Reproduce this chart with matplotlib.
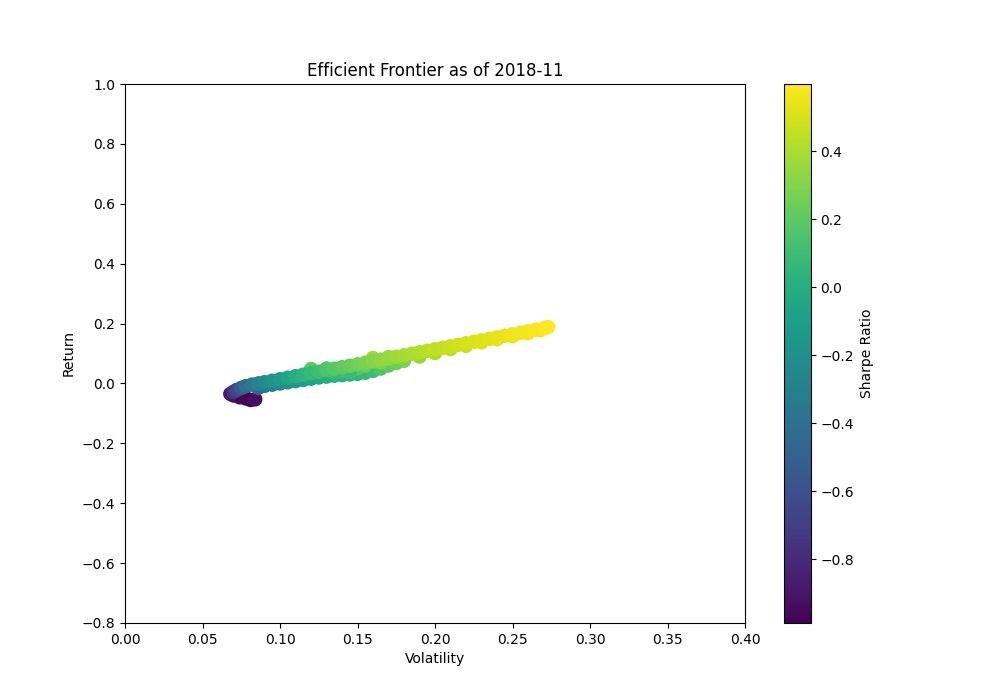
import numpy as np
import matplotlib
matplotlib.use("Agg")
import matplotlib.pyplot as plt

risk_free = 0.025

# portfolios: (volatility, return)
vol_upper = [0.068, 0.070, 0.072, 0.075, 0.078, 0.082, 0.086, 0.090, 0.095, 0.100, 0.105, 0.110,
             0.115, 0.120, 0.125, 0.130, 0.135, 0.140, 0.145, 0.150, 0.155, 0.160, 0.165, 0.170,
             0.175, 0.180, 0.185, 0.190, 0.195, 0.200, 0.205, 0.210, 0.215, 0.220, 0.225, 0.230,
             0.235, 0.240, 0.245, 0.250, 0.255, 0.260, 0.265, 0.270, 0.273]
ret_upper = [-0.035, -0.028, -0.022, -0.015, -0.009, -0.004, 0.000, 0.004, 0.009, 0.014, 0.019, 0.024,
             0.029, 0.034, 0.039, 0.044, 0.049, 0.054, 0.059, 0.064, 0.069, 0.074, 0.079, 0.084,
             0.089, 0.094, 0.099, 0.104, 0.109, 0.114, 0.119, 0.124, 0.129, 0.134, 0.139, 0.144,
             0.149, 0.154, 0.159, 0.164, 0.169, 0.174, 0.179, 0.184, 0.188]

vol_lower = [0.070, 0.074, 0.078, 0.081, 0.084, 0.086, 0.090, 0.095, 0.100, 0.105, 0.110, 0.115,
             0.120, 0.125, 0.130, 0.135, 0.140, 0.145, 0.150, 0.155, 0.160, 0.165, 0.170, 0.175,
             0.180, 0.190, 0.200, 0.210, 0.220, 0.230, 0.240, 0.250, 0.260, 0.268]
ret_lower = [-0.040, -0.046, -0.050, -0.055, -0.053, -0.015, -0.008, -0.004, 0.000, 0.004, 0.008, 0.012,
             0.016, 0.020, 0.023, 0.026, 0.028, 0.030, 0.032, 0.036, 0.042, 0.050, 0.060, 0.068,
             0.076, 0.090, 0.102, 0.115, 0.126, 0.138, 0.148, 0.158, 0.168, 0.178]

vol_mid = [0.120, 0.130, 0.140, 0.150, 0.160, 0.170, 0.135, 0.145, 0.155, 0.165]
ret_mid = [0.048, 0.050, 0.042, 0.050, 0.085, 0.088, 0.035, 0.038, 0.060, 0.070]

vol = np.array(vol_lower + vol_mid + vol_upper)
ret = np.array(ret_lower + ret_mid + ret_upper)
sharpe = (ret - risk_free) / vol

plt.figure(figsize=(10, 7))
plt.scatter(vol, ret, c=sharpe, cmap='viridis', s=90)
plt.colorbar(label='Sharpe Ratio')
plt.xlim(0, 0.4)
plt.ylim(-0.8, 1.0)
plt.xlabel('Volatility')
plt.ylabel('Return')
plt.title('Efficient Frontier as of 2018-11')
plt.savefig('out.png', dpi=100)
